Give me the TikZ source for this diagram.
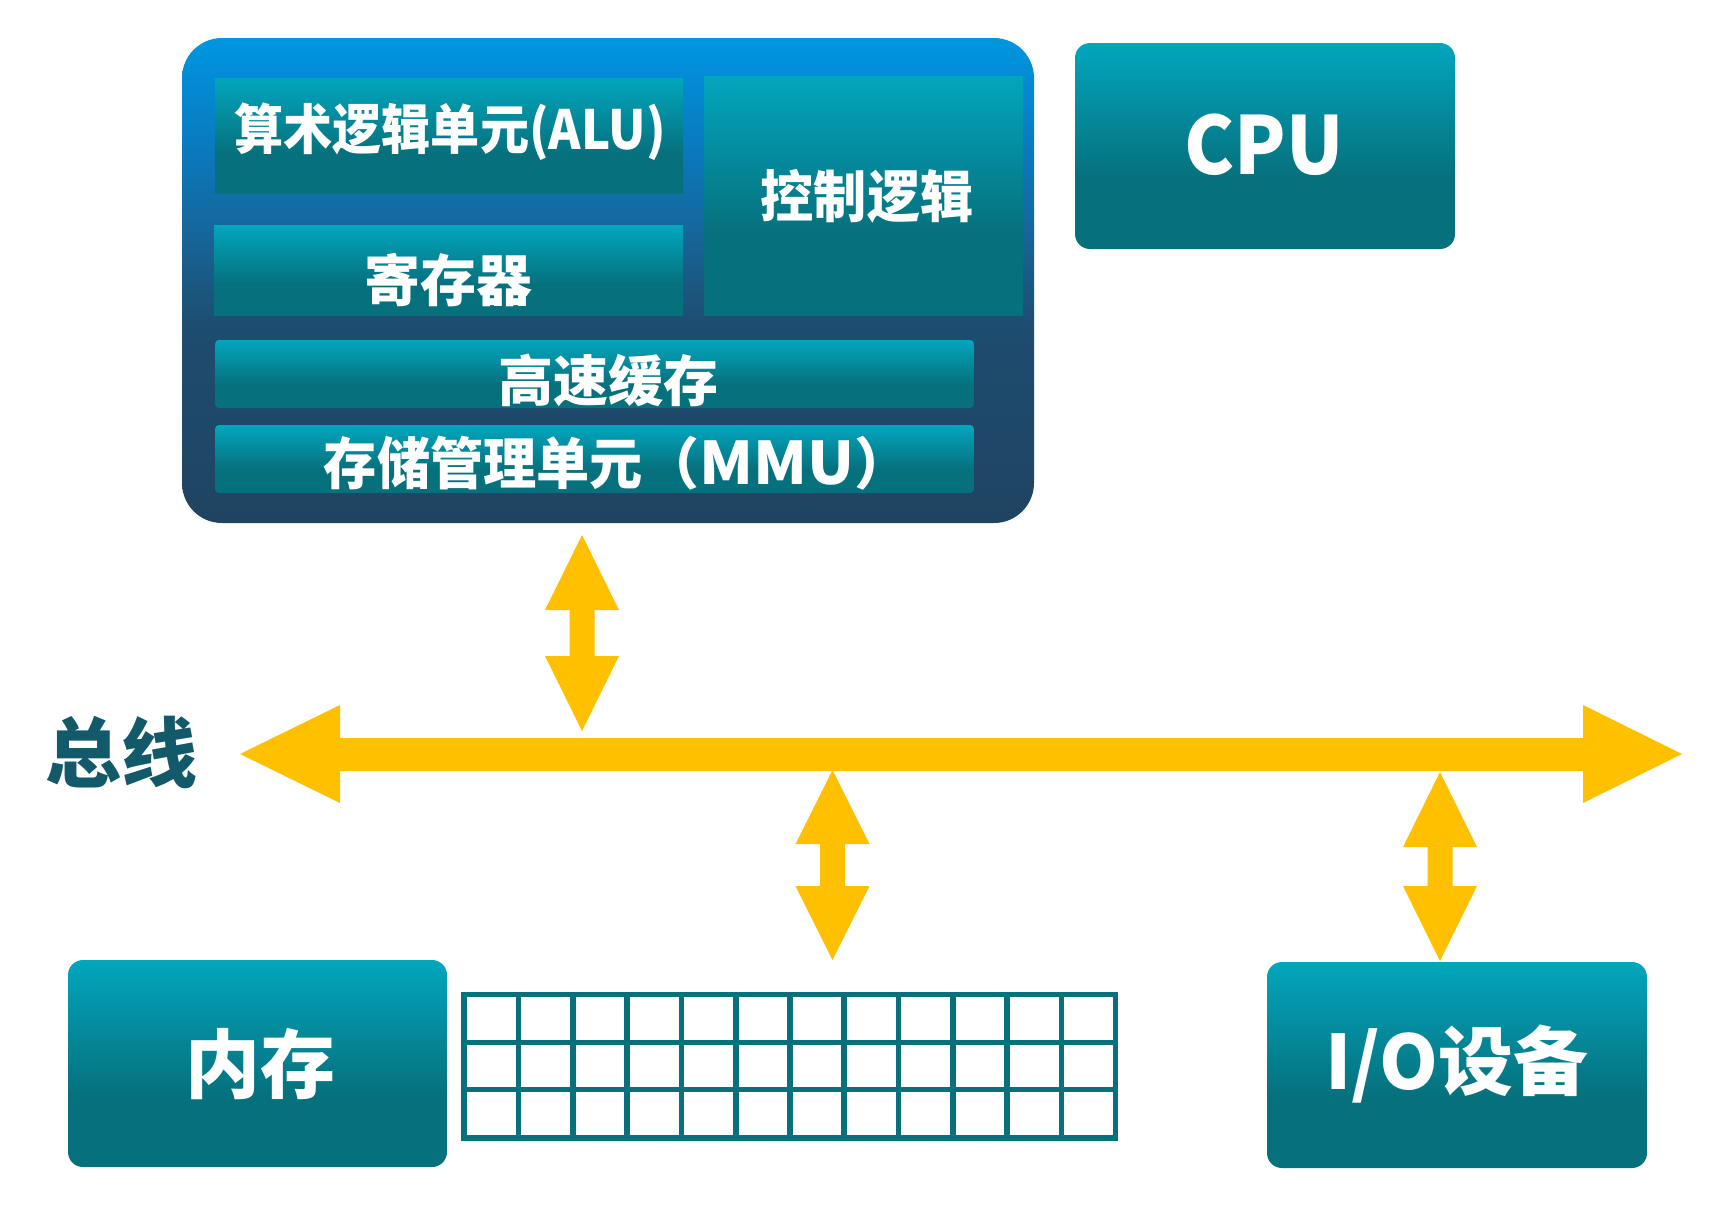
\documentclass[tikz,border=0pt]{standalone}
\usepackage{fontspec}
\setmainfont{Noto Sans CJK SC}
\usetikzlibrary{fit}
\definecolor{tealtop}{RGB}{2,166,190}
\definecolor{tealbot}{RGB}{6,112,124}
\definecolor{blue0}{RGB}{0,150,225}
\definecolor{blue1}{RGB}{8,125,195}
\definecolor{blue2}{RGB}{22,102,155}
\definecolor{navy1}{RGB}{30,76,110}
\definecolor{navy2}{RGB}{31,68,98}
\definecolor{busy}{RGB}{255,192,0}
\definecolor{gridc}{RGB}{8,112,124}
\definecolor{labc}{RGB}{18,90,106}
\pgfdeclareverticalshading{tealshade}{100bp}{color(0bp)=(tealbot); color(42bp)=(tealbot); color(75bp)=(tealtop); color(100bp)=(tealtop)}
\pgfdeclareverticalshading{coreshade}{100bp}{color(0bp)=(navy2); color(25bp)=(navy2); color(45bp)=(navy1); color(55bp)=(blue2); color(65bp)=(blue1); color(75bp)=(blue0); color(100bp)=(blue0)}
\newcommand\fsz[1]{\fontsize{#1}{#1}\selectfont}
\newcommand\vdarrow[4]{% x, ytop, ybot, head length
  \fill[busy] (#1,#2) -- (#1+37,#2+#4) -- (#1+12.5,#2+#4) -- (#1+12.5,#3-#4)
    -- (#1+37,#3-#4) -- (#1,#3) -- (#1-37,#3-#4) -- (#1-12.5,#3-#4)
    -- (#1-12.5,#2+#4) -- (#1-37,#2+#4) -- cycle;}
\begin{document}
\begin{tikzpicture}[x=0.5pt,y=-0.5pt,
  tealbox/.style={shade, shading=tealshade, draw=none, inner sep=0pt, rounded corners=#1},
  tealbox/.default=0pt,
  corebox/.style={shade, shading=coreshade, draw=none, inner sep=0pt, rounded corners=20pt},
  wtxt/.style={text=white, inner sep=0pt, font=\bfseries\fsz{#1}},
  wtxt/.default=28pt,
]
\useasboundingbox[fill=white] (0,0) rectangle (1714,1212);

% CPU core block
\node[corebox, fit={(182,38) (1034,523)}] (core) {};
\node[tealbox, fit={(215,78) (683,193)}] (alu) {};
\node[tealbox, fit={(704,76) (1023,315)}] (ctl) {};
\node[tealbox, fit={(214,225) (683,315)}] (reg) {};
\node[tealbox=2pt, fit={(215,340) (974,408)}] (cache) {};
\node[tealbox=2pt, fit={(215,425) (974,493)}] (mmu) {};
\node[wtxt=27pt] (alut) at (450,132) {\scalebox{0.91}[1]{算术逻辑单元(ALU)}};
\node[wtxt=28pt] (ctlt) at (867,196) {\scalebox{0.95}[1]{控制逻辑}};
\node[wtxt=28pt] (regt) at (448,280) {寄存器};
\node[wtxt=27.5pt] (cachet) at (608,380) {高速缓存};
\node[wtxt=28pt] (mmut) at (617,463) {\scalebox{0.95}[1]{存储管理单元}（\scalebox{1.1}[1.05]{MMU}）};

% CPU label box
\node[tealbox=7.5pt, fit={(1075,43) (1455,249)}] (cpu) {};
\node[wtxt=40pt] (cput) at (1264,145) {\scalebox{0.94}[1]{CPU}};

% memory and IO
\node[tealbox=7.5pt, fit={(68,960) (447,1167)}] (mem) {};
\node[wtxt=37.5pt] (memt) at (260,1064) {内存};
\node[tealbox=7.5pt, fit={(1267,962) (1647,1168)}] (io) {};
\node[wtxt=37.5pt] (iot) at (1457,1064) {I/O设备};

% memory cells
\node[fill=gridc, inner sep=0pt, fit={(461,992) (1118,1141)}] (ram) {};
\foreach \i in {0,...,11}{
  \foreach \j in {0,1,2}{
    \fill[white] ({467+\i*54.3},{997+\j*47.5}) rectangle ++(48.6,42.5);
  }
}

% bus label
\node[text=labc, inner sep=0pt, font=\bfseries\fsz{38pt}] (bust) at (122,752) {总线};

% bus arrow
\fill[busy] (240,754) -- (340,705) -- (340,738) -- (1583,738) -- (1583,705)
  -- (1682,754) -- (1583,803) -- (1583,771) -- (340,771) -- (340,803) -- cycle;

% vertical double arrows
\vdarrow{582}{535}{731}{75}
\vdarrow{832.5}{770}{960}{74}
\vdarrow{1440}{772}{961}{75}
\end{tikzpicture}
\end{document}
